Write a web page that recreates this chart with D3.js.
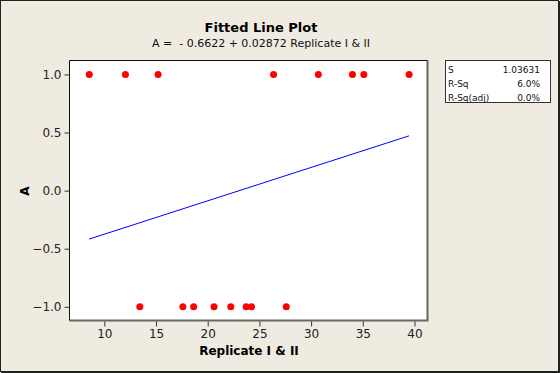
<!DOCTYPE html>
<html>
<head>
<meta charset="utf-8">
<script src="https://cdn.jsdelivr.net/npm/d3@7"></script>
<style>
  body { margin: 0; background: #fff; }
  svg { display: block; }
  text { font-family: "DejaVu Sans", sans-serif; }
</style>
</head>
<body>
<svg id="chart"></svg>
<script>
// data
let replicate = [8.54, 12.04, 15.2, 26.37, 30.7, 34.0, 35.1, 39.48,
                 13.43, 17.6, 18.64, 20.61, 22.23, 23.72, 24.24, 27.6];
let aValues = [1, 1, 1, 1, 1, 1, 1, 1,
               -1, -1, -1, -1, -1, -1, -1, -1];

// fitted coefficients from the subtitle
let intercept = -0.6622,
  slope = 0.02872;

let xTicks = [10, 15, 20, 25, 30, 35, 40];
let yTicks = [-1.0, -0.5, 0.0, 0.5, 1.0];

let statLabels = ["S", "R-Sq", "R-Sq(adj)"];
let statValues = ["1.03631", "6.0%", "0.0%"];

// svg sizes
let width = 560,
  height = 373,
  plotLeft = 69.5,
  plotRight = 427.5,
  plotTop = 60.5,
  plotBottom = 320.5;

let svg = d3.select("#chart")
  .attr("width", width)
  .attr("height", height);

// beige background with dark frame
svg.append("rect")
  .attr("x", 0.5).attr("y", 0.5)
  .attr("width", width - 2).attr("height", height - 2)
  .attr("fill", "#EFEBE1")
  .attr("stroke", "#222")
  .attr("stroke-width", 1);
svg.append("path")
  .attr("d", `M${width - 1},1V${height - 1}H1`)
  .attr("fill", "none")
  .attr("stroke", "#222")
  .attr("stroke-width", 2);

let xScale = d3.scaleLinear()
  .domain([6.63, 41.26])
  .range([plotLeft, plotRight]);

let yScale = d3.scaleLinear()
  .domain([-1.118, 1.12])
  .range([plotBottom, plotTop]);

// plot area
svg.append("rect")
  .attr("x", plotLeft).attr("y", plotTop)
  .attr("width", plotRight - plotLeft)
  .attr("height", plotBottom - plotTop)
  .attr("fill", "#fff");
svg.append("path")
  .attr("d", `M${plotRight},${plotTop}V${plotBottom}H${plotLeft}`)
  .attr("fill", "none")
  .attr("stroke", "#666")
  .attr("stroke-width", 2);
svg.append("path")
  .attr("d", `M${plotLeft},${plotBottom}V${plotTop}H${plotRight}`)
  .attr("fill", "none")
  .attr("stroke", "#111")
  .attr("stroke-width", 1);

// axes
let x_axis = d3.axisBottom(xScale)
  .tickValues(xTicks)
  .tickSize(5)
  .tickPadding(3)
  .tickFormat(d3.format("d"));

let y_axis = d3.axisLeft(yScale)
  .tickValues(yTicks)
  .tickSize(5)
  .tickPadding(3)
  .tickFormat(d3.format(".1f"));

let gx = svg.append("g")
  .attr("transform", `translate(0,${plotBottom + 1})`)
  .call(x_axis);
let gy = svg.append("g")
  .attr("transform", `translate(${plotLeft},0)`)
  .call(y_axis);

[gx, gy].forEach(g => {
  g.select(".domain").remove();
  g.selectAll(".tick line").attr("stroke", "#333");
  g.selectAll(".tick text")
    .attr("fill", "#222")
    .style("font-size", "12px")
    .style("font-family", "DejaVu Sans, sans-serif");
});

// fitted line across the data range
let xExtent = d3.extent(replicate);
let line = d3.line()
  .x(d => xScale(d))
  .y(d => yScale(intercept + slope * d));

svg.append("path")
  .datum(xExtent)
  .attr("d", line)
  .attr("fill", "none")
  .attr("stroke", "#0000FF")
  .attr("stroke-width", 1);

// points
svg.selectAll("circle.pt")
  .data(replicate)
  .enter()
  .append("circle")
  .attr("class", "pt")
  .attr("cx", d => xScale(d))
  .attr("cy", (d, i) => yScale(aValues[i]))
  .attr("r", 3.5)
  .attr("fill", "#FF0000");

// titles
svg.append("text")
  .attr("x", 261).attr("y", 32)
  .attr("text-anchor", "middle")
  .style("font-size", "13px")
  .style("font-weight", "bold")
  .text("Fitted Line Plot");

svg.append("text")
  .attr("x", 261).attr("y", 47)
  .attr("text-anchor", "middle")
  .style("font-size", "11px")
  .style("white-space", "pre")
  .attr("fill", "#111")
  .text("A =  - 0.6622 + 0.02872 Replicate I & II");

svg.append("text")
  .attr("x", 249).attr("y", 355)
  .attr("text-anchor", "middle")
  .style("font-size", "12px")
  .style("font-weight", "bold")
  .text("Replicate I & II");

svg.append("text")
  .attr("transform", "translate(29,191) rotate(-90)")
  .attr("text-anchor", "middle")
  .style("font-size", "12px")
  .style("font-weight", "bold")
  .text("A");

// stats box
svg.append("rect")
  .attr("x", 445.5).attr("y", 60.5)
  .attr("width", 105).attr("height", 42)
  .attr("fill", "#fff")
  .attr("stroke", "#333");

svg.selectAll("text.statLabel")
  .data(statLabels)
  .enter()
  .append("text")
  .attr("class", "statLabel")
  .attr("x", 448)
  .attr("y", (d, i) => 73 + i * 13.8)
  .style("font-size", "9px")
  .attr("fill", "#111")
  .text(d => d);

svg.selectAll("text.statValue")
  .data(statValues)
  .enter()
  .append("text")
  .attr("class", "statValue")
  .attr("x", 540)
  .attr("y", (d, i) => 73 + i * 13.8)
  .attr("text-anchor", "end")
  .style("font-size", "9px")
  .attr("fill", "#111")
  .text(d => d);
</script>
</body>
</html>
